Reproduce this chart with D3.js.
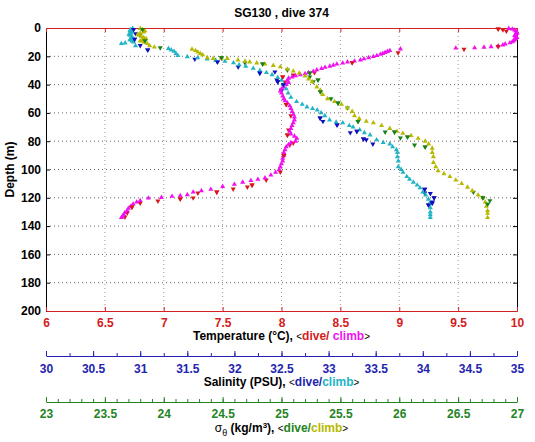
<!DOCTYPE html>
<html><head><meta charset="utf-8">
<script src="https://cdn.jsdelivr.net/npm/d3@7"></script>
<style>body{margin:0;background:#fff}svg{display:block}text{font-family:"Liberation Sans",Arial,sans-serif}</style>
</head><body><svg id="c" width="535" height="442"></svg>
<script>
// ---- data: [value, depth(m)] ----
const tempDive = [[9.84,0.6],[9.88,1.3],[9.91,2.2],[9.84,13.0],[9.55,15.0],[8.99,17.5],[8.60,24.5],[8.28,31.6],[8.10,33.2],[8.01,34.6],[8.03,38.2],[8.00,44],[8.04,54],[8.08,62],[8.06,72],[8.05,75.6],[8.10,81.3],[8.07,82.7],[8.02,90],[7.99,101.8],[7.87,107.4],[7.75,111],[7.71,112.4],[7.59,113.8],[7.45,115.9],[7.29,116.6],[7.25,120.1],[7.14,120.8],[6.95,122.3],[6.80,123.7],[6.73,126.5],[6.69,130.7],[6.67,133.6]];
const tempClimb = [[9.93,0.3],[9.96,0.8],[9.98,1.5],[9.99,2.2],[10.0,3],[10.0,3.8],[9.99,4.5],[9.98,5.3],[9.99,6],[10.0,6.8],[9.99,7.5],[9.98,8.3],[9.97,9],[9.96,9.8],[9.94,10.5],[9.90,11.3],[9.88,12],[9.84,12.6],[9.78,13.2],[9.72,13.6],[9.64,14],[9.48,14.2],[9.01,14.8],[8.92,16.0],[8.90,16.6],[8.88,17.3],[8.86,18.0],[8.84,18.6],[8.81,19.5],[8.78,20.2],[8.74,21.0],[8.70,21.8],[8.67,22.6],[8.62,23.4],[8.56,24.0],[8.52,24.8],[8.47,25.5],[8.44,26.3],[8.41,27.0],[8.37,27.8],[8.34,28.7],[8.30,29.6],[8.27,30.6],[8.23,31.5],[8.20,32.3],[8.16,33.0],[8.12,33.8],[8.09,34.6],[8.06,35.5],[8.05,37],[8.06,38.5],[8.04,40],[8.02,41.7],[8.00,43],[7.99,44.5],[8.00,46],[8.01,48],[8.02,50],[8.03,51.5],[8.05,53],[8.07,55],[8.08,57],[8.09,59],[8.10,61],[8.11,63],[8.11,65],[8.10,67],[8.09,69],[8.08,71],[8.07,73],[8.08,75],[8.11,76.5],[8.13,78],[8.12,80],[8.08,81],[8.06,82.5],[8.04,84],[8.03,86],[8.02,88],[8.02,90],[8.01,92],[8.01,94],[8.00,96],[7.99,98],[7.98,100],[7.95,102],[7.91,104],[7.86,106],[7.80,107],[7.74,107.8],[7.67,109],[7.60,110.5],[7.50,112],[7.40,114],[7.32,115],[7.25,116],[7.20,117.8],[7.14,118.5],[7.07,119],[6.98,119.8],[6.87,120.2],[6.80,122],[6.77,123],[6.74,124.5],[6.72,126],[6.70,127.5],[6.69,129],[6.67,130.5],[6.66,132],[6.65,133],[6.64,134]];
const salDive = [[30.93,1],[30.95,4],[30.94,8],[31.00,12.4],[31.08,15.5],[31.58,22],[31.82,24],[32.04,27.5],[32.27,31.8],[32.43,31],[32.46,38],[32.45,36.7],[32.52,40],[32.50,44],[32.91,63.6],[32.94,66],[33.09,68.5],[33.23,74],[33.30,73],[33.40,79],[33.37,78.4],[33.47,82],[34.02,114],[34.08,117],[34.12,120],[34.10,123],[34.06,125],[34.02,116.6],[34.10,123.7]];
const salClimb = [[30.92,0.3],[30.90,1.2],[30.89,2.0],[30.91,2.8],[30.90,3.6],[30.88,4.4],[30.89,5.2],[30.91,6.0],[30.92,6.8],[30.90,7.6],[30.89,8.4],[30.91,9.2],[30.93,10],[30.84,10.6],[30.80,11.0],[30.95,12.5],[31.30,14.5],[31.33,15.5],[31.36,16.5],[31.38,18],[31.40,19.5],[31.50,20.3],[31.61,21],[31.71,22],[31.80,22.8],[31.90,23.6],[31.99,24.6],[32.05,26],[32.12,27],[32.20,28.5],[32.27,30],[32.34,31.5],[32.40,33],[32.46,35],[32.50,37],[32.52,40],[32.55,43],[32.57,46],[32.60,49],[32.66,52],[32.72,54],[32.77,55.8],[32.83,57],[32.88,58],[32.92,60],[32.96,62],[33.01,65],[33.08,66.5],[33.15,67],[33.22,69],[33.26,70],[33.33,72],[33.38,74],[33.44,75.6],[33.51,79],[33.58,81],[33.65,82],[33.68,84],[33.72,86],[33.73,88],[33.73,91],[33.74,94],[33.74,98],[33.77,100],[33.79,102],[33.83,105],[33.86,107],[33.90,109],[33.94,111],[33.97,113],[34.00,116],[34.03,118],[34.06,121],[34.07,124],[34.08,127],[34.08,130],[34.08,132],[34.08,134]];
const sigDive = [[23.82,1],[23.80,5],[23.84,9],[23.97,14],[24.49,21],[24.69,24.7],[24.84,25.4],[25.05,29.7],[25.24,31.8],[25.24,34.6],[25.31,36.7],[25.27,38],[25.33,45],[25.42,50],[25.48,53],[25.56,56.5],[25.65,66],[25.88,73.5],[25.96,73.5],[26.01,77.7],[26.07,77],[26.13,82.7],[26.22,84],[26.63,116],[26.71,120],[26.77,122],[26.75,124.5]];
const sigClimb = [[23.80,0.3],[23.82,1.2],[23.84,2],[23.83,2.8],[23.80,3.6],[23.78,4.4],[23.79,5.2],[23.81,6],[23.83,6.8],[23.85,7.6],[23.82,8.4],[23.80,9.2],[23.83,10],[23.86,11],[23.88,12.5],[23.92,13.5],[24.24,15],[24.27,16],[24.29,17],[24.31,18],[24.33,19],[24.37,21],[24.42,21.5],[24.49,21.2],[24.54,21.5],[24.63,22.6],[24.69,23.5],[24.73,24],[24.79,24.7],[24.86,25.5],[24.93,26.5],[24.99,27.5],[25.05,29],[25.10,30.5],[25.15,32],[25.20,34],[25.23,36],[25.26,38],[25.30,41.7],[25.33,44],[25.35,47],[25.39,50],[25.45,52],[25.51,54],[25.56,56.5],[25.60,59],[25.62,62],[25.66,64],[25.72,66],[25.78,67],[25.85,69],[25.92,71],[25.98,73],[26.03,74.5],[26.10,76],[26.16,78],[26.22,80],[26.25,82],[26.28,85],[26.28,88],[26.29,91],[26.29,95],[26.31,98],[26.33,101],[26.38,103],[26.43,105],[26.48,107.5],[26.53,110],[26.58,112.5],[26.62,115],[26.67,118],[26.71,120],[26.73,123],[26.74,126],[26.75,129],[26.75,131],[26.75,134]];
const depthTicks = [0,20,40,60,80,100,120,140,160,180,200];
const tempTicks = [6,6.5,7,7.5,8,8.5,9,9.5,10];
const salTicks = [30,30.5,31,31.5,32,32.5,33,33.5,34,34.5,35];
const sigTicks = [23,23.5,24,24.5,25,25.5,26,26.5,27];

// ---- layout ----
const L=46,R=517,T=28,B=311;
const svg=d3.select("#c");
const y=d3.scaleLinear([0,200],[T,B]);
const xT=d3.scaleLinear([6,10],[L,R]);
const xS=d3.scaleLinear([30,35],[L,R]);
const xG=d3.scaleLinear([23,27],[L,R]);
const cRed="#d81818",cMag="#f010f0",cBlue="#1010c0",cCyan="#20b4c4",cGreen="#1a801a",cOlive="#b8b800";
const tRed="#d42020",tBlue="#2424b0",tGreen="#248424";

// grid
svg.append("g").selectAll("line").data(tempTicks.slice(1,-1)).join("line")
 .attr("x1",d=>xT(d)).attr("x2",d=>xT(d)).attr("y1",T).attr("y2",B)
 .attr("stroke","#b89090").attr("stroke-dasharray","1,3");
svg.append("g").selectAll("line").data(depthTicks.slice(1,-1)).join("line")
 .attr("y1",d=>y(d)).attr("y2",d=>y(d)).attr("x1",L).attr("x2",R)
 .attr("stroke","#666").attr("stroke-dasharray","1,3");

function styleAxis(g,col,tcol){
  g.select(".domain").attr("stroke",col);
  g.selectAll(".tick line").attr("stroke",col);
  g.selectAll(".tick text").attr("fill",tcol).attr("font-size",12).attr("font-weight","bold");
}
const fmt=d=>String(d);
// left / right depth axes
svg.append("g").attr("transform",`translate(${L},0)`)
 .call(d3.axisLeft(y).tickValues(depthTicks).tickFormat(fmt).tickSizeInner(-4).tickSizeOuter(0).tickPadding(5))
 .call(g=>styleAxis(g,"#000","#000"));
svg.append("g").attr("transform",`translate(${R},0)`)
 .call(d3.axisRight(y).tickValues(depthTicks).tickFormat("").tickSizeInner(-4).tickSizeOuter(0))
 .call(g=>styleAxis(g,"#000","#000"));
// temperature axes (top & bottom)
svg.append("g").attr("transform",`translate(0,${T})`)
 .call(d3.axisTop(xT).tickValues(tempTicks).tickFormat("").tickSizeInner(-4).tickSizeOuter(0))
 .call(g=>styleAxis(g,tRed,tRed));
svg.append("g").attr("transform",`translate(0,${B})`)
 .call(d3.axisBottom(xT).tickValues(tempTicks).tickFormat(fmt).tickSizeInner(-4).tickSizeOuter(0).tickPadding(7))
 .call(g=>styleAxis(g,tRed,tRed));
// salinity axis
const yS=356;
svg.append("g").attr("transform",`translate(0,${yS})`)
 .call(d3.axisBottom(xS).tickValues(d3.range(30,35.01,0.25)).tickFormat("").tickSizeInner(-3).tickSizeOuter(0))
 .call(g=>styleAxis(g,tBlue,tBlue));
svg.append("g").attr("transform",`translate(0,${yS})`)
 .call(d3.axisBottom(xS).tickValues(salTicks).tickFormat(fmt).tickSizeInner(-5).tickSizeOuter(0).tickPadding(8))
 .call(g=>{styleAxis(g,tBlue,tBlue);g.select(".domain").remove();});
// sigma axis
const yG=402;
svg.append("g").attr("transform",`translate(0,${yG})`)
 .call(d3.axisBottom(xG).tickValues(d3.range(23,27.001,0.1)).tickFormat("").tickSizeInner(-3).tickSizeOuter(0))
 .call(g=>styleAxis(g,tGreen,tGreen));
svg.append("g").attr("transform",`translate(0,${yG})`)
 .call(d3.axisBottom(xG).tickValues(sigTicks).tickFormat(fmt).tickSizeInner(-5).tickSizeOuter(0).tickPadding(7))
 .call(g=>{styleAxis(g,tGreen,tGreen);g.select(".domain").remove();});

// markers
const up=d3.symbol(d3.symbolTriangle,11)();
function plot(data,xs,col,down){
  svg.append("g").selectAll("path").data(data).join("path")
   .attr("d",up).attr("fill",col)
   .attr("transform",d=>`translate(${xs(d[0])},${y(d[1])})${down?" rotate(180)":""}`);
}
plot(tempDive,xT,cRed,true);
plot(salDive,xS,cBlue,true);
plot(sigDive,xG,cGreen,true);
plot(tempClimb,xT,cMag,false);
plot(salClimb,xS,cCyan,false);
plot(sigClimb,xG,cOlive,false);
plot(tempDive.filter((d,i)=>i%3==0),xT,cRed,true);
plot(salDive.filter((d,i)=>i%2==0),xS,cBlue,true);
plot(sigDive.filter((d,i)=>i%2==0),xG,cGreen,true);

// texts
const cx=(L+R)/2;
svg.append("text").attr("x",cx).attr("y",17).attr("text-anchor","middle").attr("font-size",12).attr("font-weight","bold").text("SG130 , dive 374");
svg.append("text").attr("transform",`translate(14,${(T+B)/2}) rotate(-90)`).attr("text-anchor","middle").attr("font-size",12).attr("font-weight","bold").text("Depth (m)");
function title(yy,parts){
  const t=svg.append("text").attr("x",cx).attr("y",yy).attr("text-anchor","middle").attr("font-size",12).attr("font-weight","bold");
  parts.forEach(p=>{const s=t.append("tspan").text(p[0]).attr("fill",p[1]||"#000");
    if(p[2])s.attr("font-size",p[2]); if(p[3])s.attr("font-weight",p[3]); if(p[4])s.attr("dy",p[4]);});
}
title(340,[["Temperature (°C), "],["<","#000",10,"normal"],["dive/",tRed],[" climb",cMag],[">","#000",10,"normal"]]);
title(386,[["Salinity (PSU), "],["<","#000",10,"normal"],["dive/",tBlue],["climb",cCyan],[">","#000",10,"normal"]]);
title(432,[["σ","#000",12,"normal"],["θ","#000",9,"normal",4],[" (kg/m","#000",null,null,-4],["3","#000",8,null,-4],["), ","#000",null,null,4],["<","#000",10,"normal"],["dive/",tGreen],["climb",cOlive],[">","#000",10,"normal"]]);
</script></body></html>
